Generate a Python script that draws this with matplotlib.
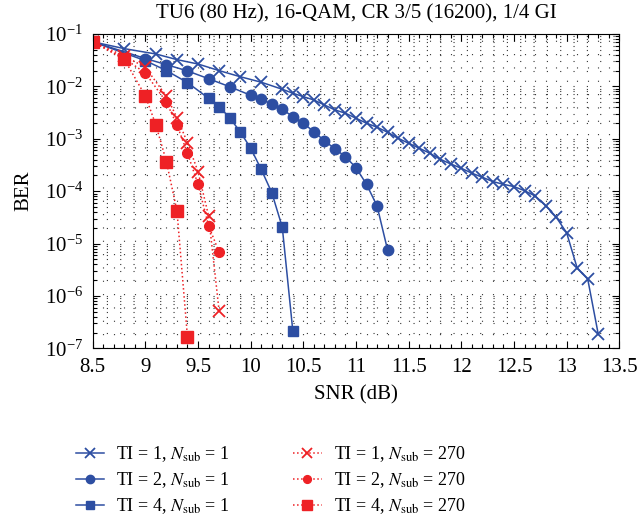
import matplotlib
matplotlib.use('Agg')
import matplotlib.pyplot as plt
from matplotlib.ticker import MultipleLocator, FuncFormatter, LogLocator, NullFormatter

plt.rcParams['font.family'] = ['Liberation Serif', 'DejaVu Serif']
plt.rcParams['mathtext.fontset'] = 'stix'
plt.rcParams['font.size'] = 15

# TI = 1, Nsub = 1
snr_ti1 = [8.5, 8.8, 9.1, 9.3, 9.5, 9.7, 9.9, 10.1, 10.3, 10.4, 10.5, 10.6, 10.7, 10.8,
           10.9, 11.0, 11.1, 11.2, 11.3, 11.4, 11.5, 11.6, 11.7, 11.8, 11.9, 12.0, 12.1,
           12.2, 12.3, 12.4, 12.5, 12.6, 12.7, 12.8, 12.9, 13.0, 13.1, 13.2, 13.3]
ber_ti1 = [7.1e-2, 5.25e-2, 4.15e-2, 3.24e-2, 2.67e-2, 2.0e-2, 1.53e-2, 1.2e-2, 8.8e-3,
           7.4e-3, 6.36e-3, 5.5e-3, 4.41e-3, 3.55e-3, 3.07e-3, 2.46e-3, 1.98e-3, 1.66e-3,
           1.33e-3, 1.02e-3, 8.2e-4, 6.6e-4, 5.3e-4, 4.06e-4, 3.3e-4, 2.73e-4, 2.2e-4,
           1.84e-4, 1.52e-4, 1.35e-4, 1.22e-4, 1.02e-4, 8.1e-5, 5.3e-5, 3.2e-5, 1.6e-5,
           3.4e-6, 2.1e-6, 1.86e-7]

# TI = 2, Nsub = 1
snr_ti2 = [8.5, 9.0, 9.2, 9.4, 9.6, 9.8, 10.0, 10.1, 10.2, 10.3, 10.4, 10.5, 10.6, 10.7,
           10.8, 10.9, 11.0, 11.1, 11.2, 11.3]
ber_ti2 = [7.1e-2, 3.4e-2, 2.6e-2, 1.97e-2, 1.4e-2, 9.86e-3, 6.76e-3, 5.67e-3, 4.61e-3,
           3.66e-3, 2.64e-3, 1.98e-3, 1.36e-3, 9.2e-4, 6.4e-4, 4.55e-4, 2.8e-4, 1.35e-4,
           5.2e-5, 7.5e-6]

# TI = 4, Nsub = 1
snr_ti4 = [8.5, 9.0, 9.2, 9.4, 9.6, 9.7, 9.8, 9.9, 10.0, 10.1, 10.2, 10.3, 10.4]
ber_ti4 = [7.1e-2, 3.1e-2, 2.0e-2, 1.18e-2, 5.93e-3, 4.1e-3, 2.53e-3, 1.36e-3, 6.6e-4,
           2.6e-4, 9.4e-5, 2.05e-5, 2.15e-7]

# TI = 1, Nsub = 270
snr_ti1_270 = [8.5, 8.8, 9.0, 9.2, 9.3, 9.4, 9.5, 9.6, 9.7]
ber_ti1_270 = [7.1e-2, 3.8e-2, 2.31e-2, 6.5e-3, 2.53e-3, 8.4e-4, 2.35e-4, 3.4e-5, 5.2e-7]

# TI = 2, Nsub = 270
snr_ti2_270 = [8.5, 8.8, 9.0, 9.2, 9.3, 9.4, 9.5, 9.6, 9.7]
ber_ti2_270 = [7.1e-2, 3.4e-2, 1.8e-2, 5.0e-3, 1.83e-3, 5.3e-4, 1.35e-4, 2.2e-5, 6.8e-6]

# TI = 4, Nsub = 270
snr_ti4_270 = [8.5, 8.8, 9.0, 9.1, 9.2, 9.3, 9.4]
ber_ti4_270 = [7.13e-2, 3.29e-2, 6.56e-3, 1.83e-3, 3.66e-4, 4.19e-5, 1.63e-7]

labels = [r'TI = 1, $N_{\mathrm{sub}}$ = 1', r'TI = 2, $N_{\mathrm{sub}}$ = 1',
          r'TI = 4, $N_{\mathrm{sub}}$ = 1', r'TI = 1, $N_{\mathrm{sub}}$ = 270',
          r'TI = 2, $N_{\mathrm{sub}}$ = 270', r'TI = 4, $N_{\mathrm{sub}}$ = 270']

blue = '#2D4EA2'
red = '#EE2125'

fig = plt.figure(figsize=(6.38, 5.22), dpi=100)
ax = fig.add_axes([0.1453, 0.3328, 0.8254, 0.6021])

h1, = ax.plot(snr_ti1, ber_ti1, '-x', color=blue, lw=1.1, ms=9, mew=1.3)
h2, = ax.plot(snr_ti2, ber_ti2, '-o', color=blue, lw=1.1, ms=7.5)
h3, = ax.plot(snr_ti4, ber_ti4, '-s', color=blue, lw=1.1, ms=7)
h4, = ax.plot(snr_ti1_270, ber_ti1_270, ':x', color=red, lw=1.1, ms=9, mew=1.3)
h5, = ax.plot(snr_ti2_270, ber_ti2_270, ':o', color=red, lw=1.1, ms=7)
h6, = ax.plot(snr_ti4_270, ber_ti4_270, ':s', color=red, lw=1.1, ms=9)

ax.set_yscale('log')
ax.set_xlim(8.5, 13.5)
ax.set_ylim(1e-7, 1e-1)
ax.xaxis.set_major_locator(MultipleLocator(0.5))
ax.xaxis.set_minor_locator(MultipleLocator(0.1))
ax.xaxis.set_major_formatter(FuncFormatter(lambda v, p: '%g' % v))
ax.yaxis.set_major_locator(LogLocator(base=10, numticks=10))
ax.yaxis.set_minor_locator(LogLocator(base=10, subs=range(2, 10), numticks=20))
ax.yaxis.set_minor_formatter(NullFormatter())
ax.tick_params(which='both', direction='in', top=True, right=True, width=0.8)
ax.tick_params(which='major', length=5, pad=7)
ax.tick_params(which='minor', length=3)
ax.grid(which='both', color='0.2', linestyle=(0, (1, 11)), lw=0.8)
ax.set_axisbelow(True)

ax.set_title('TU6 (80 Hz), 16-QAM, CR 3/5 (16200), 1/4 GI', fontsize=15, pad=11)
ax.set_xlabel('SNR (dB)', labelpad=6)
ax.set_ylabel('BER', labelpad=8)

fig.legend([h1, h2, h3, h4, h5, h6], labels, ncol=2, frameon=False, numpoints=1,
           loc='center', bbox_to_anchor=(0.424, 0.08), fontsize=13, markerscale=0.8,
           handlelength=1.6, columnspacing=3.5, labelspacing=0.35, handletextpad=0.65)

fig.savefig('out.png', dpi=100)
